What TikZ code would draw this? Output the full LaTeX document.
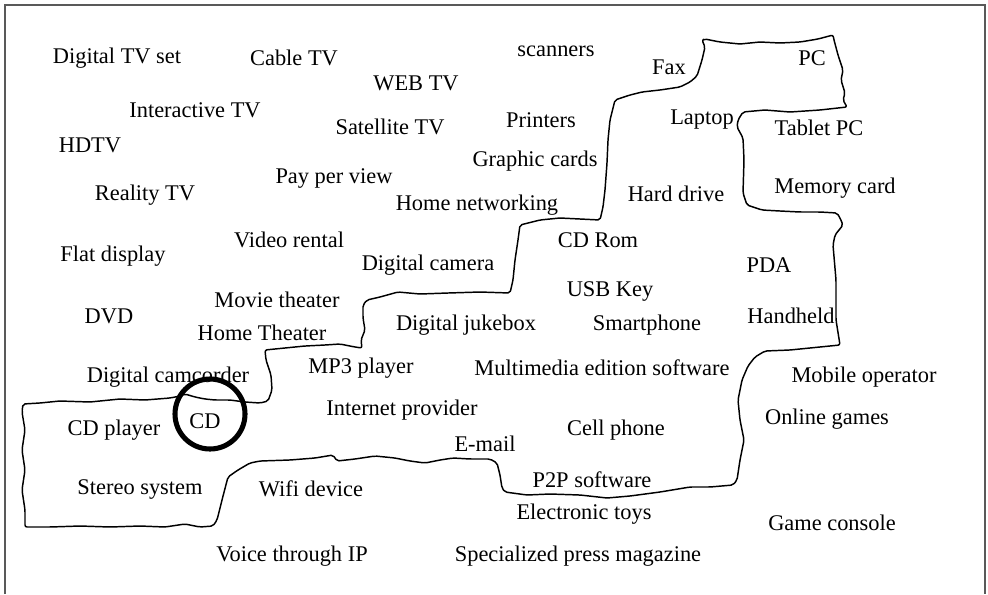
\documentclass[tikz,border=0pt]{standalone}
\usepackage{fontspec}
\setmainfont{Liberation Serif}
\begin{document}
\begin{tikzpicture}[x=0.75pt,y=-0.75pt,
  term/.style={inner sep=0pt,font=\fontsize{16.8}{19}\selectfont},
  frame/.style={draw=black!65,line width=1.6pt},
  zone/.style={draw=black,line width=1.1pt,line join=round,rounded corners=1.5pt},
  ring/.style={draw=black,line width=3.8pt}]
\useasboundingbox (0,0) rectangle (988,594);
% outer frame (open at the bottom)
\draw[frame] (5,594) -- (5,5) -- (985,5) -- (985,594);

% hand-drawn boundary of the digital zone
\draw[zone]
 (705,39) -- (720,42) -- (740,44) -- (760,42) -- (780,43) -- (800,42) -- (818,39) -- (833,35)
 -- (834,40) -- (838,55) -- (843,70) -- (841,80) -- (845,93) -- (843,100) -- (847,107)
 -- (820,110) -- (790,112) -- (765,110) -- (743,112)
 -- (738,120) -- (737,127) -- (743,138) -- (744,160) -- (743,193) -- (747,205) -- (762,210)
 -- (780,211) -- (800,212) -- (820,212) -- (837,213)
 -- (840,218) -- (843,225) -- (835,235) -- (833,245) -- (836,280) -- (836,320) -- (840,345)
 -- (820,347) -- (790,350) -- (765,351) -- (755,357) -- (748,366)
 -- (742,380) -- (738,400) -- (740,420) -- (744,440) -- (740,460) -- (737,480) -- (733,485)
 -- (710,487) -- (690,487) -- (660,492) -- (630,496) -- (607,498) -- (580,495) -- (550,494)
 -- (527,495) -- (505,492) -- (502,488)
 -- (500,475) -- (497,463) -- (490,459)
 -- (470,459) -- (453,458) -- (440,460) -- (425,463) -- (410,461) -- (395,458) -- (375,456)
 -- (355,459) -- (337,461) -- (333,455) -- (315,458) -- (290,460) -- (260,461) -- (250,463)
 -- (238,470) -- (228,477)
 -- (222,500) -- (217,520) -- (213,526)
 -- (200,527) -- (185,524) -- (165,527) -- (140,526) -- (110,527) -- (80,526) -- (50,527) -- (25,527)
 -- (25,510) -- (22,490) -- (25,470) -- (22,450) -- (25,430) -- (22,412) -- (23,404)
 -- (40,403) -- (60,401) -- (90,402) -- (120,399) -- (145,400) -- (170,398) -- (180,396)
 -- (185,394) -- (195,397) -- (205,399) -- (215,400) -- (230,400) -- (245,402) -- (260,403) -- (268,401)
 -- (272,390) -- (271,375) -- (266,360) -- (265,350)
 -- (285,348) -- (305,346) -- (325,345) -- (340,344) -- (355,347) -- (362,348)
 -- (361,340) -- (365,330) -- (363,318) -- (363,305) -- (367,300)
 -- (380,297) -- (398,292) -- (420,294) -- (448,293) -- (480,292) -- (510,293)
 -- (513,280) -- (515,260) -- (518,240) -- (520,225)
 -- (540,220) -- (560,218) -- (580,219) -- (600,220)
 -- (603,207) -- (605,190) -- (607,163) -- (608,140) -- (610,120) -- (615,100)
 -- (630,95) -- (642,92) -- (660,90) -- (680,87)
 -- (690,82) -- (697,76) -- (702,60) -- (705,47) -- (702,40) -- cycle;

% terms
\node[term] (dtvset) at (117,58) {Digital TV set};
\node[term] (cabletv) at (294,58) {Cable TV};
\node[term] (webtv) at (416,83) {WEB TV};
\node[term] (scanners) at (556,51) {scanners};
\node[term] (fax) at (669,67) {Fax};
\node[term] (pc) at (812,58) {PC};
\node[term] (itv) at (195,110) {Interactive TV};
\node[term] (sattv) at (390,127) {Satellite TV};
\node[term] (printers) at (541,120) {Printers};
\node[term] (laptop) at (702,120) {Laptop};
\node[term] (tabletpc) at (819,128) {Tablet PC};
\node[term] (hdtv) at (90,145) {HDTV};
\node[term] (gcards) at (535,161) {Graphic cards};
\node[term] (ppv) at (334,178) {Pay per view};
\node[term] (realtv) at (145,195) {Reality TV};
\node[term] (hdrive) at (676,194) {Hard drive};
\node[term] (memcard) at (835,188) {Memory card};
\node[term] (homenet) at (477,205) {Home networking};
\node[term] (vrental) at (289,240) {Video rental};
\node[term] (cdrom) at (598,240) {CD Rom};
\node[term] (flat) at (113,256) {Flat display};
\node[term] (dcam) at (428,265) {Digital camera};
\node[term] (pda) at (769,265) {PDA};
\node[term] (usb) at (610,291) {USB Key};
\node[term] (movie) at (277,300) {Movie theater};
\node[term] (dvd) at (109,316) {DVD};
\node[term] (jukebox) at (466,325) {Digital jukebox};
\node[term] (smart) at (647,325) {Smartphone};
\node[term] (handheld) at (791,316) {Handheld};
\node[term] (hometh) at (262,333) {Home Theater};
\node[term] (mp3) at (361,368) {MP3 player};
\node[term] (mmsoft) at (602,368) {Multimedia edition software};
\node[term] (camcorder) at (168,377) {Digital camcorder};
\node[term] (mobop) at (864,377) {Mobile operator};
\node[term] (isp) at (402,410) {Internet provider};
\node[term] (ogames) at (827,419) {Online games};
\node[term] (cdplayer) at (114,430) {CD player};
\node[term] (cd) at (205,421) {CD};
\node[term] (cell) at (616,430) {Cell phone};
\node[term] (email) at (485,444) {E-mail};
\node[term] (p2p) at (592,480) {P2P software};
\node[term] (stereo) at (140,489) {Stereo system};
\node[term] (wifi) at (311,489) {Wifi device};
\node[term] (etoys) at (584,514) {Electronic toys};
\node[term] (console) at (832,523) {Game console};
\node[term] (voip) at (292,556) {Voice through IP};
\node[term] (press) at (578,556) {Specialized press magazine};

% highlight ring
\draw[ring] (210,414) circle[radius=35];
\end{tikzpicture}
\end{document}
